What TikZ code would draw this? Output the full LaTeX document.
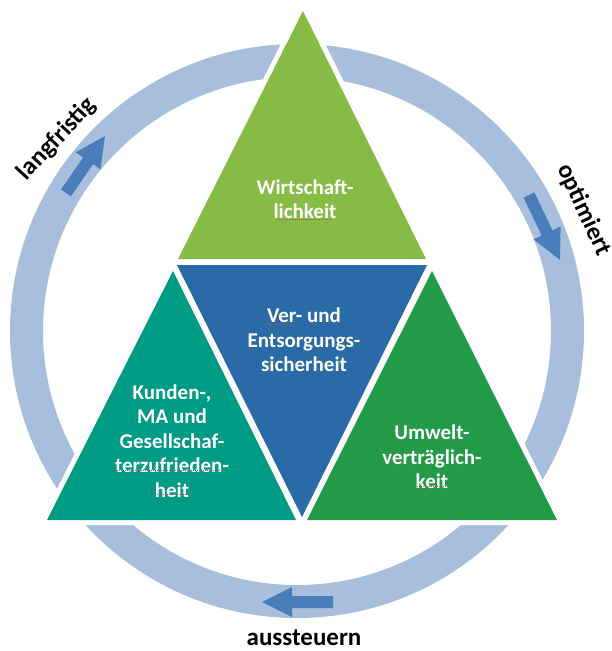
\documentclass[tikz,border=0pt]{standalone}
\usepackage{fontspec}
\setmainfont{Carlito}
\usetikzlibrary{calc}
\definecolor{ringc}{HTML}{A7BFDD}
\definecolor{arrowc}{HTML}{4A7EBB}
\definecolor{topg}{HTML}{86BC45}
\definecolor{midb}{HTML}{2A6AA6}
\definecolor{teal}{HTML}{009B84}
\definecolor{rgreen}{HTML}{229A48}
\definecolor{spellc}{HTML}{C0504D}
\begin{document}
\begin{tikzpicture}[x=1pt,y=-1pt,
  ringstyle/.style={draw=ringc, line width=33pt},
  cutstyle/.style={draw=white, line width=10pt, line join=round},
  tritext/.style={text=white, font=\bfseries\fontsize{21}{24.5}\selectfont, align=center, inner sep=0pt},
  outlabel/.style={text=black, font=\bfseries\fontsize{25}{30}\selectfont, inner sep=0pt},
  blockarrow/.style={fill=arrowc, draw=none},
  spell/.style={draw=spellc, line width=0.7pt, dash pattern=on 1pt off 1pt}]
\useasboundingbox (0,0) rectangle (612,651);
% ring
\coordinate (c) at (297,331);
\draw[ringstyle] (c) circle[radius=270.5pt];
% white cut around big triangle
\coordinate (bl) at (47,520);
\coordinate (ap) at (303,11);
\coordinate (br) at (557,520);
\draw[cutstyle] (bl) -- (ap) -- (br) -- cycle;
% triangles
\fill[topg] (303,11) -- (178,259) -- (426,259) -- cycle;
\fill[midb] (177,265) -- (427,265) -- (302,517) -- cycle;
\fill[teal] (173,271) -- (47,520) -- (296,520) -- cycle;
\fill[rgreen] (432,271) -- (307,520) -- (557,520) -- cycle;
% texts
\node[tritext] (w) at (305,199) {Wirtschaft-\\lichkeit};
\node[tritext] (v) at (304,340) {Ver- und\\Entsorgungs-\\sicherheit};
\node[tritext] (k) at (172,441) {Kunden-,\\MA und\\Gesellschaf-\\terzufrieden-\\heit};
\node[tritext] (u) at (432,457) {Umwelt-\\verträglich-\\keit};
% spell-check marks
\draw[spell] (277,219) -- (333,219);
\draw[spell] (265,324) -- (295,324);
\draw[spell] (115,470) -- (225,470);
\draw[spell] (157,494) -- (191,494);
\draw[spell] (415,486) -- (449,486);
% outer labels
\node[outlabel, rotate=47] (lf) at (57,139) {langfristig};
\node[outlabel, rotate=-65] (op) at (584,210) {optimiert};
\node[outlabel] (as) at (304,638) {aussteuern};
% block arrows
\newcommand{\blockarr}[2]{%
  \coordinate (h) at ($(#2)!30pt!(#1)$);
  \fill[blockarrow] ($(#1)!6pt!90:(#2)$) -- ($(h)!6pt!-90:(#1)$) -- ($(h)!15pt!-90:(#1)$) -- (#2)
     -- ($(h)!15pt!90:(#1)$) -- ($(h)!6pt!90:(#1)$) -- ($(#1)!6pt!-90:(#2)$) -- cycle;}
\coordinate (a1t) at (66,193);
\coordinate (a1h) at (105,136);
\coordinate (a2t) at (529,195);
\coordinate (a2h) at (560,260);
\coordinate (a3t) at (333,602);
\coordinate (a3h) at (262,602);
\blockarr{a1t}{a1h}
\blockarr{a2t}{a2h}
\blockarr{a3t}{a3h}
\end{tikzpicture}
\end{document}
